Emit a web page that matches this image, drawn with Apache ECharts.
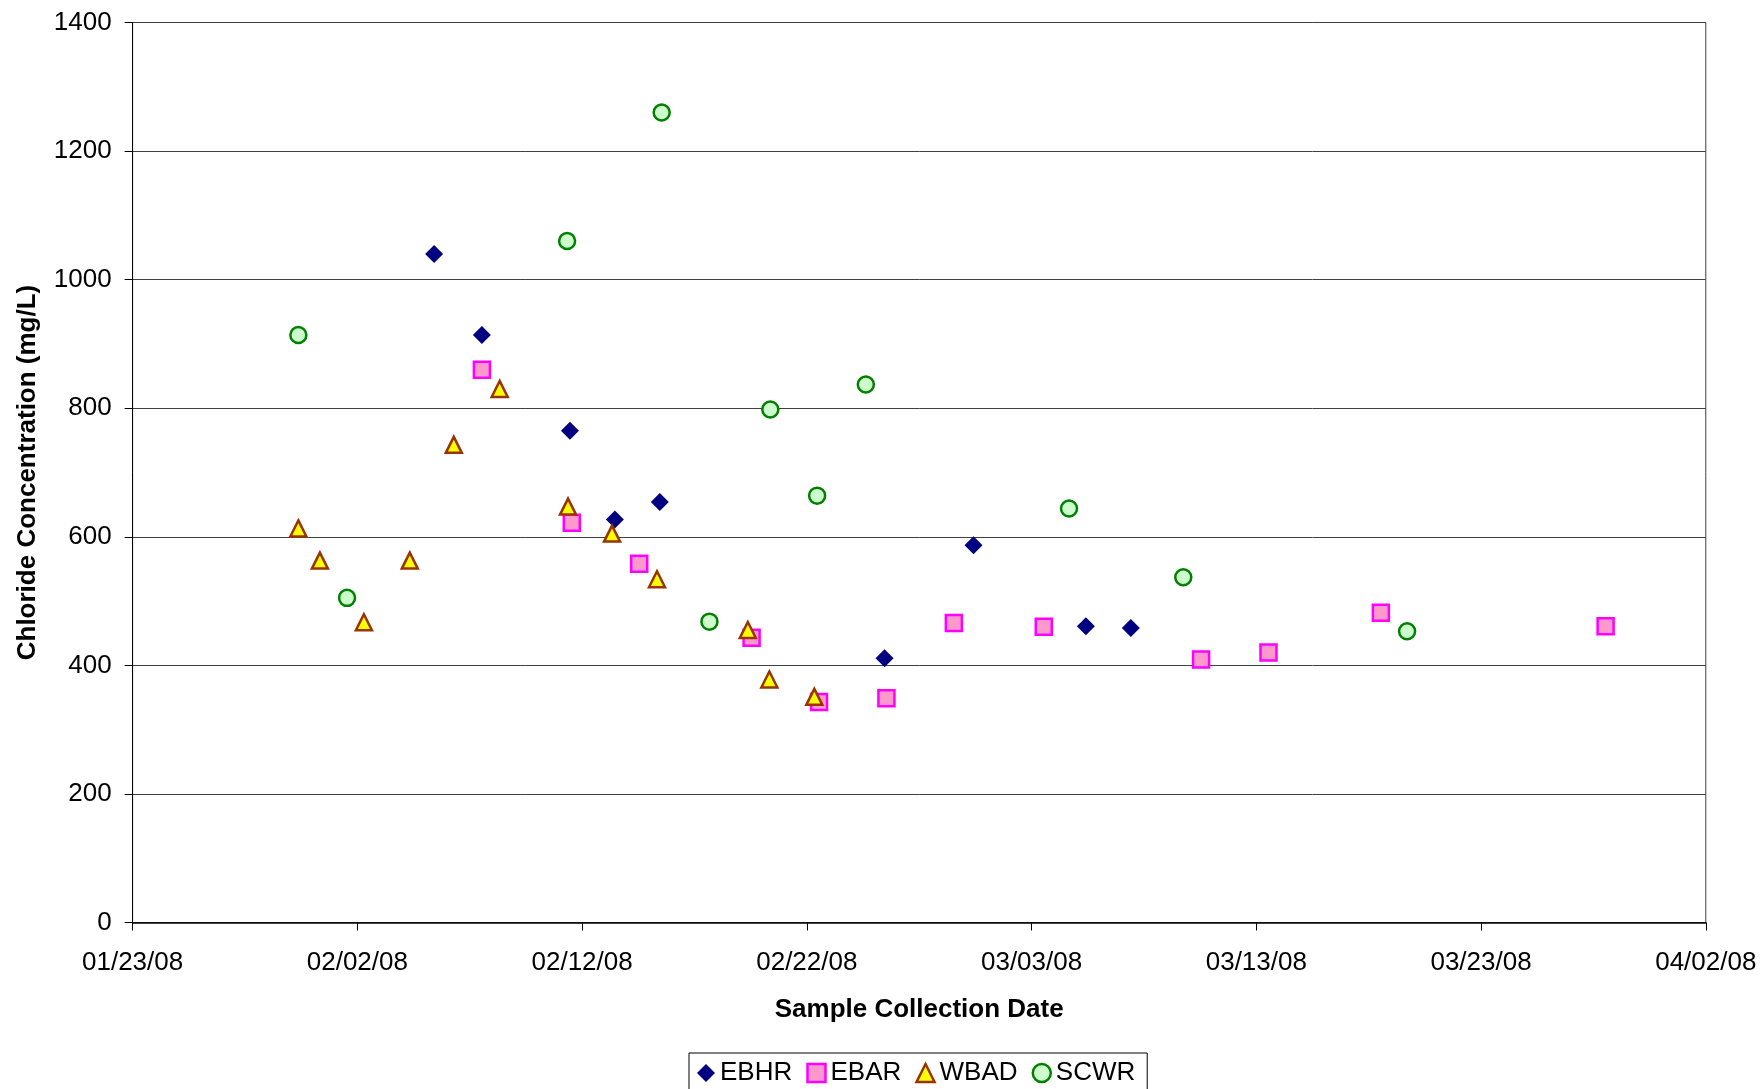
<!DOCTYPE html>
<html>
<head>
<meta charset="utf-8">
<script src="https://cdn.jsdelivr.net/npm/echarts@6/dist/echarts.min.js"></script>
<style>
html,body{margin:0;padding:0;background:#fff;}
#chart{width:1762px;height:1089px;}
</style>
</head>
<body>
<div id="chart"></div>
<script>
// ---- Data (dates, values in mg/L) ----
const seriesNames = ['EBHR', 'EBAR', 'WBAD', 'SCWR'];

const ebhrDates  = ['2008-02-05 10:00','2008-02-07 13:00','2008-02-11 11:00','2008-02-13 11:00','2008-02-15 11:00','2008-02-25 11:00','2008-02-29 10:00','2008-03-05 10:00','2008-03-07 10:00'];
const ebhrValues = [1040, 914, 765, 627, 654, 411, 587, 461, 458];

const ebarDates  = ['2008-02-07 13:00','2008-02-11 13:00','2008-02-14 13:00','2008-02-19 13:00','2008-02-22 13:00','2008-02-25 13:00','2008-02-28 13:00','2008-03-03 13:00','2008-03-10 13:00','2008-03-13 13:00','2008-03-18 13:00','2008-03-28 13:00'];
const ebarValues = [860, 622, 558, 443, 343, 349, 466, 460, 409, 420, 482, 461];

const wbadDates  = ['2008-01-30 09:00','2008-01-31 08:00','2008-02-02 07:00','2008-02-04 08:00','2008-02-06 07:00','2008-02-08 08:00','2008-02-11 09:00','2008-02-13 08:00','2008-02-15 08:00','2008-02-19 09:00','2008-02-20 08:00','2008-02-22 08:00'];
const wbadValues = [613, 563, 467, 563, 743, 830, 647, 605, 534, 455, 378, 351];

const scwrDates  = ['2008-01-30 09:00','2008-02-01 13:00','2008-02-11 08:00','2008-02-15 13:00','2008-02-17 16:00','2008-02-20 09:00','2008-02-22 11:00','2008-02-24 15:00','2008-03-04 16:00','2008-03-09 18:00','2008-03-19 17:00'];
const scwrValues = [914, 505, 1060, 1260, 468, 798, 664, 837, 644, 537, 453];

const xTickStart = '2008-01-23';
const xTickEnd   = '2008-04-02';
const xTickStepDays = 10;
const yTicks = [0, 200, 400, 600, 800, 1000, 1200, 1400];

const xTitle = 'Sample Collection Date';
const yTitle = 'Chloride Concentration (mg/L)';

// ---- helpers ----
const DAY = 86400000;
function toUTC(s) {
  const m = s.match(/(\d+)-(\d+)-(\d+)(?:\s+(\d+):(\d+))?/);
  return Date.UTC(+m[1], +m[2] - 1, +m[3], m[4] ? +m[4] : 0, m[5] ? +m[5] : 0);
}
const base = toUTC(xTickStart);
function dayOffset(s) { return (toUTC(s) - base) / DAY; }
function pad(n) { return (n < 10 ? '0' : '') + n; }
function fmtDay(v) {
  const d = new Date(base + Math.round(v) * DAY);
  return pad(d.getUTCMonth() + 1) + '/' + pad(d.getUTCDate()) + '/' + pad(d.getUTCFullYear() % 100);
}
function pairs(dates, vals) { return dates.map((d, i) => [dayOffset(d), vals[i]]); }

const FONT = '"Liberation Sans", Arial, sans-serif';

const styles = {
  EBHR: { symbol: 'diamond', symbolSize: 18, itemStyle: { color: '#000080', borderWidth: 0, opacity: 1 } },
  EBAR: { symbol: 'rect', symbolSize: 16, itemStyle: { color: '#FF99CC', borderColor: '#FF00FF', borderWidth: 2.5, opacity: 1 } },
  WBAD: { symbol: 'triangle', symbolSize: 16, itemStyle: { color: '#FFFF00', borderColor: '#993300', borderWidth: 2.5, opacity: 1 } },
  SCWR: { symbol: 'circle', symbolSize: 16, itemStyle: { color: '#CCFFCC', borderColor: '#008000', borderWidth: 2.5, opacity: 1 } }
};
const dataMap = {
  EBHR: pairs(ebhrDates, ebhrValues),
  EBAR: pairs(ebarDates, ebarValues),
  WBAD: pairs(wbadDates, wbadValues),
  SCWR: pairs(scwrDates, scwrValues)
};

const chart = echarts.init(document.getElementById('chart'), null, { renderer: 'canvas' });
chart.setOption({
  animation: false,
  backgroundColor: '#ffffff',
  textStyle: { fontFamily: FONT, color: '#000' },
  grid: {
    left: 132.6, right: 56.2, top: 22.5, bottom: 166.5,
    show: true, borderColor: '#404040', borderWidth: 1, containLabel: false
  },
  xAxis: {
    type: 'value',
    min: 0,
    max: dayOffset(xTickEnd),
    interval: xTickStepDays,
    name: xTitle,
    nameLocation: 'middle',
    nameGap: 74,
    nameTextStyle: { fontFamily: FONT, fontSize: 26, fontWeight: 'bold', color: '#000' },
    axisLine: { show: true, onZero: false, lineStyle: { color: '#000', width: 1.5 } },
    axisTick: { show: true, inside: false, length: 8, lineStyle: { color: '#000' } },
    axisLabel: { margin: 27, fontFamily: FONT, fontSize: 26, color: '#000', formatter: fmtDay },
    splitLine: { show: false }
  },
  yAxis: {
    type: 'value',
    min: yTicks[0],
    max: yTicks[yTicks.length - 1],
    interval: yTicks[1] - yTicks[0],
    name: yTitle,
    nameLocation: 'middle',
    nameGap: 92,
    nameRotate: 90,
    nameTextStyle: { fontFamily: FONT, fontSize: 26, fontWeight: 'bold', color: '#000' },
    axisLine: { show: true, lineStyle: { color: '#000', width: 1 } },
    axisTick: { show: true, inside: false, length: 8, lineStyle: { color: '#000' } },
    axisLabel: { margin: 21, fontFamily: FONT, fontSize: 26, color: '#000', formatter: v => String(v) },
    splitLine: { show: true, lineStyle: { color: '#404040', width: 1 } }
  },
  legend: {
    left: 689, top: 1053,
    orient: 'horizontal',
    padding: [7, 12, 5, 8],
    itemGap: 14,
    itemWidth: 18, itemHeight: 18,
    borderColor: '#000', borderWidth: 1,
    backgroundColor: '#fff',
    textStyle: { fontFamily: FONT, fontSize: 26, color: '#000', padding: [0, 0, 0, 0] },
    data: seriesNames.map(n => ({
      name: n,
      icon: styles[n].symbol,
      itemStyle: Object.assign({}, styles[n].itemStyle, { borderWidth: styles[n].itemStyle.borderWidth ? 2.5 : 0 })
    }))
  },
  series: seriesNames.map(n => ({
    name: n,
    type: 'scatter',
    symbol: styles[n].symbol,
    symbolSize: styles[n].symbolSize,
    itemStyle: styles[n].itemStyle,
    emphasis: { disabled: true },
    data: dataMap[n]
  }))
});
</script>
</body>
</html>
